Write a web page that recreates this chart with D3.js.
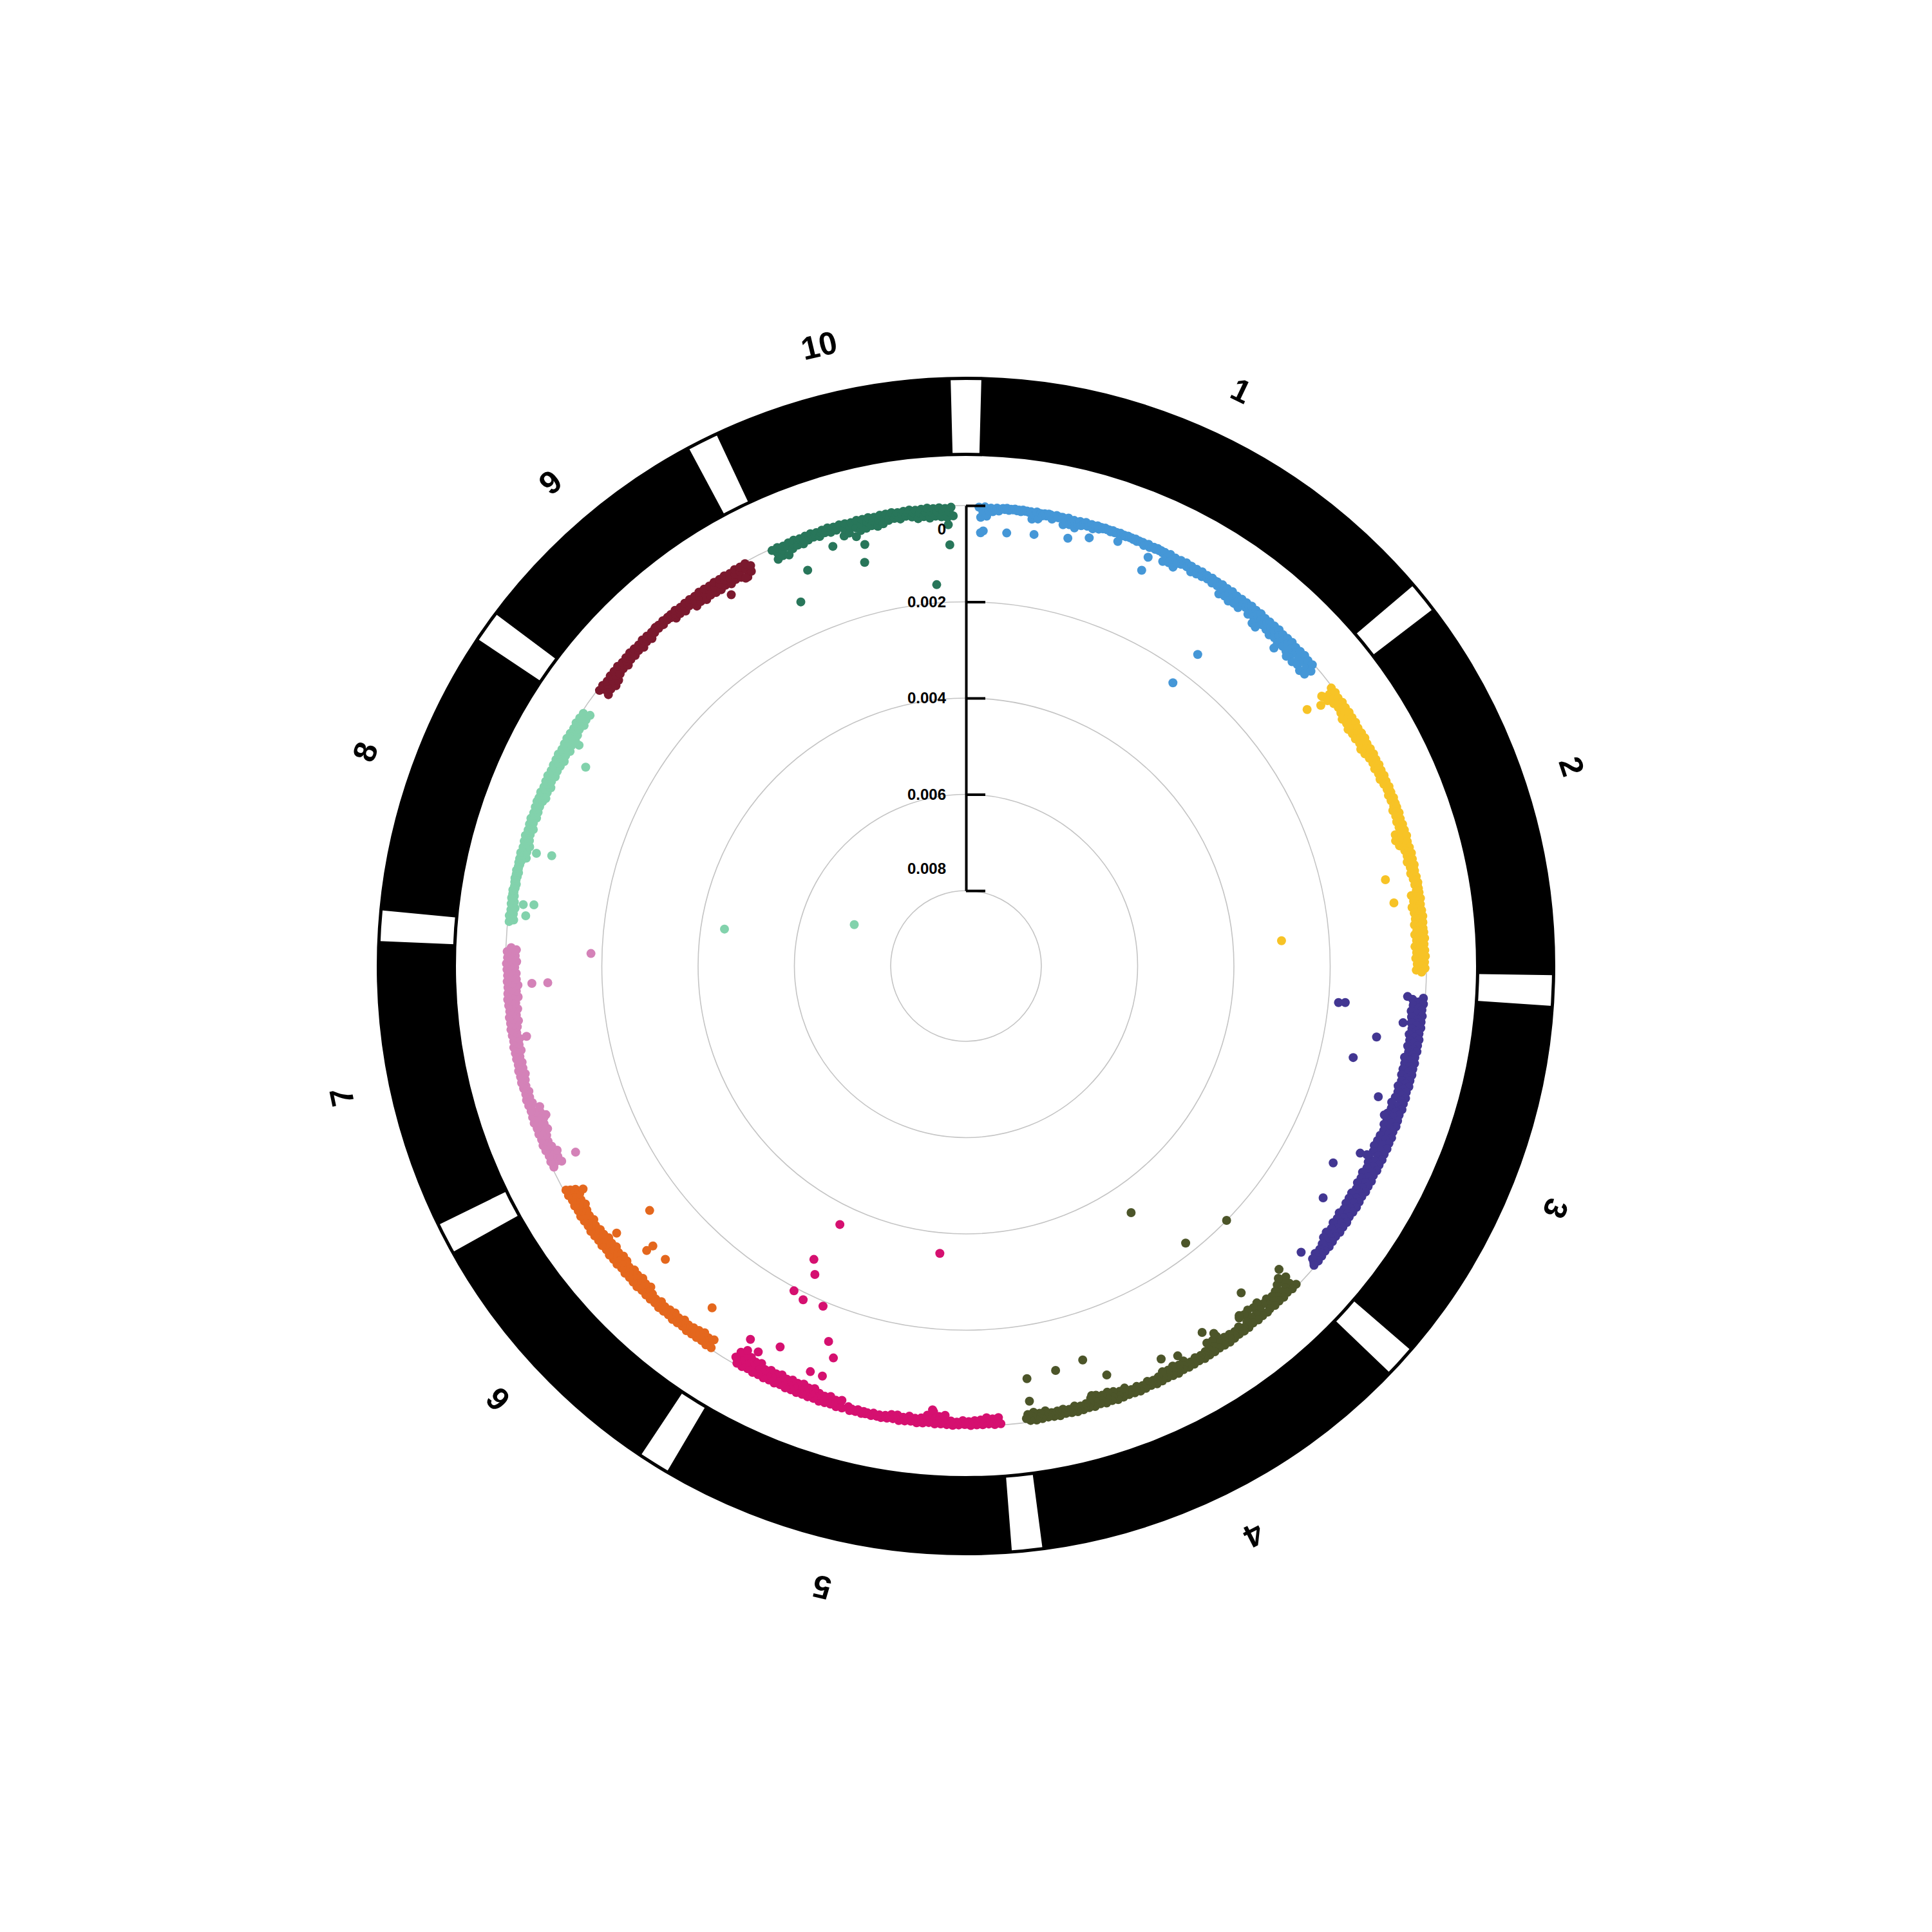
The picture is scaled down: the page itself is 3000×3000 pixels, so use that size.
<!DOCTYPE html>
<html><head><meta charset="utf-8">
<script src="https://cdn.jsdelivr.net/npm/d3@7"></script>
<style>html,body{margin:0;padding:0;background:#fff}</style>
</head><body>
<svg id="chart" width="3000" height="3000"></svg>
<script>
// ---------------- data ----------------
const chromosomes = ["1","2","3","4","5","6","7","8","9","10"];
const chromLengthsMb = [307.04, 244.44, 235.67, 246.99, 223.90, 174.03, 182.38, 181.12, 159.77, 150.98];
const chromColors = ["#4597d7","#f7c326","#423692","#4c5529","#d51070","#e4671d","#d482b8","#82d2ac","#7b192e","#28765a"];
const radialTicks = [0, 0.002, 0.004, 0.006, 0.008];
const radialTickLabels = ["0","0.002","0.004","0.006","0.008"];
// SNP values below are in units of 1e-5, evenly spaced along each chromosome (null = no data)
const valueUnit = 1e-5;
const band1 = [3,24,12,2,21,10, 4,11,6,3,9,5, 3,5,2,6,3,4,2,5,3,6,2,4,3,5, 3,18,9,2,16, 4,8,3,7,2, 3,11,6, 2,6,4,
 3,18,9,2,15,8,4,19,10,3, 11,5,2,9,6,3,11,4,2,8, 3,5,2,4,3,6,2,5,3,4,2,6,3,5,2,4,3,5,2,6,3,4, 3,8,4,2,7,5, 3,6,2,5,3,6,
 3,22,11,2,19,10,4,23,12,3, 10,5,2,9,4,3, 14,7,3,12,6,2, 11,5,3,9,6,2,11,4,3,10,5,2, 22,11,3,19,10,2,23,12,4,20,9,3,22,11,
 3,12,6,2, 20,10,3,17,9,2,21,11,4,18,8,3,20,10, 3,24,12,2,21,11,4,25,13,3,22,10,2,24,12,4,20,11, 3,30,15,2,26,13,4,31,16,3,28,14];
const band2 = [3,28,14,2,25,12, 4,18,9,2,15,8,3,17,10,2, 22,11,3,19,10,2,23,12,4,20, 10,3,20,10,2,17,9,4,21,11,3,18,8,2,
 14,7,3,12,6,2,14,7,3,11,5,2,13,6, 3,10,5,2,8,4,3,10,5,2,9,4,3,8, 3,13,7,2,11,6,4,13,6,3,12,5, 3,24,12,2,27,13,4,22,11,3,
 14,7,2,12,6,3,15,7,2,11,5,4,13,6, 3,10,5,2,9,4,3,8, 3,20,10,2,17,9,4,22,11,3,19,10,2,18,9,3,21,10,4,17,
 3,22,11,2,19,10,4,23,12,3,20,11,2,22,10,4,19,11,3,21,10];
const band3 = [4,26,13,3,24,12,5,27,14,3,25, 12,4,24,12,3,21,11,5,25,13,3,22,12,4,24,11,3,20,10,5,26,13,3,23,12,4,24,12,
 3,24,12,4,21,11,3,25,13,5,22,12,3,24,11,4, 28,14,3,25,13,5,29,15,4,26,14,3,28,14,5,24,12,3,27,14,4,28, 15,3,30,15,4,27,14,3,31,16,
 4,27,14,3,24,12,5,28,14,3,25,13,4,27,14,3,23,12,5,27,13,4,26,13, 3,26,13,4,23,12,5,27,14,3,24,12,4,26,13,3,22,11,5,26,13,4,24,12,
 3,18,9,4,15,8,3,17,9,2,14,7,3];
const band4 = [4,30,15,3,27,14,5,31,16,3, 24,12,4,21,11,3,25,13,5,22, 3,32,16,4,29,15,3,33,17,5,30,15,3,31, 9,3,17,9,4,14,8,3,16,8,2,17,9,3,
 28,14,4,25,13,3,27,14, 3,14,7,2,12,6,4,14,7,3,11,6, 3,20,10,4,17,9,2,21,11,3,18,10,4,20, 7,3,14,7,2,12,6,4,15,7,3,11,5,2,14,7,3,12,6,4,
 20,10,3,17,9,2,21,11, 4,24,12,3,21,11,5,25,13,3,22,12, 4,14,7,3,12,6,2,15,7,3,11,6,4,14,7,2,13,6,3,12,7,4, 18,9,3,15,8,2,19,10,3,16,8];
const band5 = [3,16,8,2,14,7,4,17,9,3,13,6, 3,12,6,2,10,5,4,12,6,3,9,5,2,11,6,3, 22,11,4,19,10,3,28,14,5,20,11,3,
 13,7,2,11,6,4,14,7,3,10,5,2,13,7,4,12,6,3, 8,4,2,7,3,5,8,2,4,6,3,7,2,5,8,3,4,6,2,9, null,null,
 3,18,9,2,15,8,4,19,10,3,16,9,2,18,9,4, 24,12,3,21,11,4,25,13,3,22, 12,4,24,12,3,21,11,5,25,13,3,22,12,4,24,11,3,20,
 14,4,28,14,3,25,13,5,29,15,3,26,14,4,28,14];
const band6 = [3,20,10,2,17,9,4,21,11,3,18,10, 3,16,8,2,14,7,4,17,9,3,13,7,2,16,8,4, 14,7,3,12,6,2,15,7,4,11,6,3,14,7,
 3,22,11,4,19,10,2,23,12,3,20,11,4,22,11,3,18,10,5,23,12,3, 24,12,4,21,11,3,25,13,5,22,12,3,24,12,4,20,
 10,3,20,10,2,17,9,4,21,11,3,18,10,2,20,10, 4,24,12,3,21,11,5,25,13,3,22,12,4];
const band7 = [4,24,12,3,21,11,5,25, 9,3,18,9,2,15,8,4,17,9, 3,24,12,4,21,11,2,25,13,3,22,12,4,24, 6,3,12,6,2,10,5,4,12,6,3,9,5,2,11,6,
 3,14,7,2,12,6,4,13,7,3,11,6, 3,16,8,2,14,7,4,17,9,3,13,7,2,16, 10,3,20,10,2,17,9,4,21,11,3,18,10,2,
 24,12,3,21,11,4,25,13,3,22,12,4, 22,11,3,19,10,2,23,12,4,20,11,3,22,11];
const band8 = [3,12,6,2,10,5,4,12,6,3,9,5, 2,7,3,5,2,6,4,7,3,5,2,6,3,7,2,5,4,6,3,7, 3,16,8,2,14,7,4,17,9,3,
 13,7,2,11,6,4,14,7,3,10,5,2,13,7,4,12,6,3,11,6,2,13, 3,17,9,2,15,8,4,18,9,3,14,7,2,17,9,4,16,8,3,17,
 10,3,20,10,2,17,9,4,21,11,3,18,10,2,20,10, 3,18,9,4,15,8,2,19,10,3,16,9,4,18];
const band9 = [4,24,12,3,21,11,5,25,13,3,22,12, 3,16,8,2,14,7,4,17,9,3,13,7, 2,14,7,3,12,6,4,15,7,2,11,6,3,14,7,4,
 9,4,2,8,3,5,9,2,4,7,3,8, 3,16,8,2,14,7,4,17,9,3,13,8, 3,23,12,4,20,10,2,24,12,3,21,11,4,23,12,3,
 24,12,4,21,11,3,25,13,5,22,12,3,24,12,4,30,15,3,23,12];
const band10 = [4,26,13,3,23,12,5,27, 9,3,18,9,2,15,8,4,17,9, 3,13,7,2,11,6,4,14,7,3,10,5,2,13,7,4,12,6,
 3,28,14,4,25,13,5,36,18,3,26,14, 4,24,12,3,21,11,5,25,13,3,22,12, 3,17,9,2,15,8,4,18,9,3,14,7,2,17,9,4,
 22,11,3,19,10,2,23,12,4,20,11,3,22,11,5,24,12,3,21];
// isolated SNPs: [chromosome, position (Mb), value in units of 1e-5]
const outlierChrom = [1,1,1,1,1,1,1,1,1,1,1,1,1,1,1, 2,2,2,2,2,2, 3,3,3,3,3,3,3,3,3,3,3,3,3,
 4,4,4,4,4,4,4,4,4,4,4,4,4,4,4,4,4, 5,5,5,5,5,5,5,5,5,5,5,5,5,5,5,5, 6,6,6,6,6,6,6, 7,7,7,7,7,7,
 8,8,8,8,8,8,8,8,8, 9,9, 10,10,10,10,10,10,10,10];
const outlierPosMb = [2.7,4.9,24.7,47.6,75.9,92.9,116.0,143.7,143.2,224.3,221.2,244.7,248.8,271.8,283.8,
 2.9,7.0,1.3,164.5,185.1,209.5,
 10.9,10.2,37.7,60.0,87.4,100.2,155.1,185.7,233.6,22.3,0.3,137.2,136.0,
 1.8,7.5,38.8,52.2,85.4,77.7,3.1,49.6,79.0,112.8,126.2,173.5,189.4,215.0,241.1,241.8,190.7,
 194.6,61.8,203.5,195.2,206.7,194.6,174.1,156.9,147.9,151.8,162.6,194.6,220.1,209.2,217.5,56.1,
 119.4,93.2,93.8,77.3,19.2,121.3,167.2,
 179.0,152.2,152.2,108.8,4.1,42.4,
 16.7,15.7,6.8,59.1,60.4,141.5,20.8,94.9,154.9,
 133.3,150.6,
 48.2,74.4,70.6,21.4,4.8,146.5,132.5,145.9];
const outlierValues = [56,52,53,49,43,31,20,27,57,150,228,29,31,37,31,
 70,42,29,67,58,299,
 179,165,91,130,58,34,91,72,41,41,37,50,36,
 51,39,69,35,51,36,200,222,340,35,45,58,103,96,90,43,27,
 359,357,270,243,193,185,190,126,97,54,54,76,61,46,38,32,
 126,84,68,84,72,43,36,
 177,54,87,32,58,31,
 50,28,36,34,66,65,449,709,31,
 44,30,
 42,56,92,71,126,81,162,39];

// ---------------- layout ----------------
const W = 3000, H = 3000, cx = 1500, cy = 1500;
const gapDeg = 3;
const ringInner = 794.5, ringOuter = 912.5;
const labelRadius = 990;
const pointRadius = 7;

const svg = d3.select("#chart");
svg.append("rect").attr("width", W).attr("height", H).attr("fill", "#fff");
const g = svg.append("g").attr("transform", `translate(${cx},${cy})`);

const totalLen = d3.sum(chromLengthsMb);
const degPerMb = (360 - gapDeg * chromosomes.length) / totalLen;
const toRad = Math.PI / 180;
const chromStartDeg = [];
let acc = gapDeg / 2;
chromLengthsMb.forEach(L => { chromStartDeg.push(acc); acc += L * degPerMb + gapDeg; });
const angleScales = chromLengthsMb.map((L, i) =>
  d3.scaleLinear().domain([0, L]).range([chromStartDeg[i] * toRad, (chromStartDeg[i] + L * degPerMb) * toRad]));

const rScale = d3.scaleLinear().domain([0, 0.008]).range([715, 117]);

// chromosome ring
const arc = d3.arc().innerRadius(ringInner).outerRadius(ringOuter);
g.selectAll("path.chrom").data(chromosomes).join("path")
  .attr("class", "chrom")
  .attr("d", (d, i) => arc({startAngle: angleScales[i].range()[0], endAngle: angleScales[i].range()[1]}))
  .attr("fill", "#000");
[ringOuter, ringInner].forEach(r => g.append("circle").attr("r", r)
  .attr("fill", "none").attr("stroke", "#000").attr("stroke-width", 5));

// chromosome labels
g.selectAll("text.chrlabel").data(chromosomes).join("text")
  .attr("class", "chrlabel")
  .attr("transform", (d, i) => {
    const a = (angleScales[i].range()[0] + angleScales[i].range()[1]) / 2 / toRad;
    return `rotate(${a}) translate(0,${-labelRadius})`;
  })
  .attr("text-anchor", "middle")
  .attr("dominant-baseline", "central")
  .style("font-family", "'Liberation Sans', Arial, sans-serif")
  .style("font-weight", "bold")
  .style("font-size", "50px")
  .attr("fill", "#000")
  .text(d => d);

// grid circles
g.selectAll("circle.grid").data(radialTicks).join("circle")
  .attr("class", "grid")
  .attr("r", d => rScale(d))
  .attr("fill", "none")
  .attr("stroke", "#c4c4c4")
  .attr("stroke-width", 1.6);

// points
const bands = [band1, band2, band3, band4, band5, band6, band7, band8, band9, band10];
const points = [];
bands.forEach((arr, ci) => {
  const L = chromLengthsMb[ci];
  arr.forEach((u, i) => {
    if (u == null) return;
    points.push({chr: ci, pos: (i + 0.5) / arr.length * L, value: u * valueUnit});
  });
});
outlierChrom.forEach((c, i) => points.push({chr: c - 1, pos: outlierPosMb[i], value: outlierValues[i] * valueUnit}));

g.selectAll("circle.pt").data(points).join("circle")
  .attr("class", "pt")
  .attr("cx", d => rScale(d.value) * Math.sin(angleScales[d.chr](d.pos)))
  .attr("cy", d => -rScale(d.value) * Math.cos(angleScales[d.chr](d.pos)))
  .attr("r", pointRadius)
  .attr("fill", d => chromColors[d.chr]);

// radial axis
const yAxisScale = d3.scaleLinear().domain([0, 0.008]).range([cy - rScale(0), cy - rScale(0.008)]);
const axis = d3.axisLeft(yAxisScale)
  .tickValues(radialTicks)
  .tickFormat((d, i) => radialTickLabels[i])
  .tickSizeInner(-30)
  .tickSizeOuter(0)
  .tickPadding(31);
const axG = svg.append("g").attr("transform", `translate(${cx},0)`).call(axis);
axG.select(".domain").attr("stroke", "#000").attr("stroke-width", 4);
axG.selectAll(".tick line").attr("stroke", "#000").attr("stroke-width", 4);
axG.selectAll(".tick text")
  .attr("fill", "#000")
  .style("font-family", "'Liberation Sans', Arial, sans-serif")
  .style("font-weight", "bold")
  .style("font-size", "24px")
  .attr("dy", (d, i, n) => i === 0 ? "1.85em" : (i === n.length - 1 ? "-1.1em" : "0.32em"));
</script>
</body></html>
